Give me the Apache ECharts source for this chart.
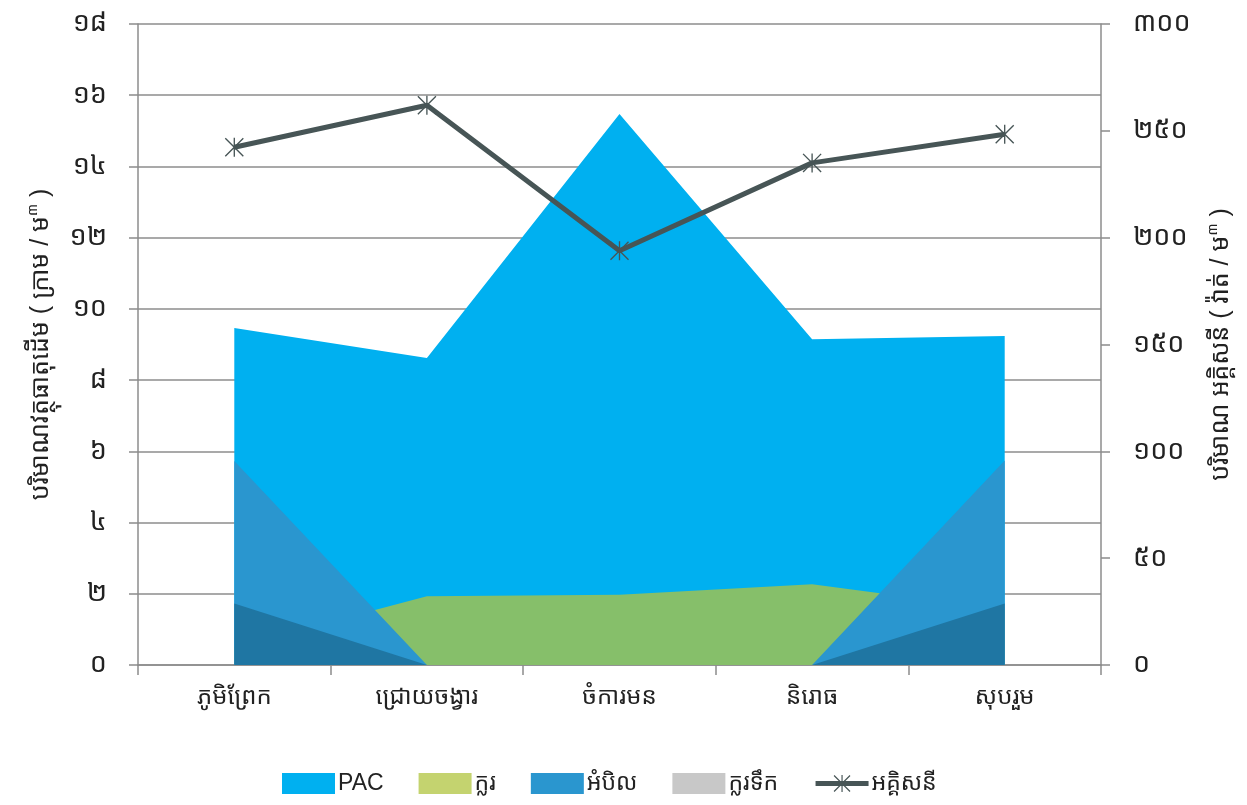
<!DOCTYPE html>
<html>
<head>
<meta charset="utf-8">
<script src="https://cdn.jsdelivr.net/npm/echarts@6/dist/echarts.min.js"></script>
<style>
html,body{margin:0;padding:0;background:#fff;}
#chart{width:1247px;height:805px;}
</style>
</head>
<body>
<div id="chart"></div>
<script>
// Data
var categories = ['ភូមិព្រែក', 'ជ្រោយចង្វារ', 'ចំការមន', 'និរោធ', 'សុបរួម'];
var pacValues = [9.46, 8.62, 15.47, 9.15, 9.24];
var chlorineValues = [0.5, 1.93, 1.97, 2.27, 1.55];
var saltValues = [5.73, 0, 0, 0, 5.74];
var liquidChlorineValues = [1.73, 0, 0, 0, 1.73];
var electricityValues = [242.3, 262.0, 193.9, 235.0, 248.4];
var leftTickLabels = ['០', '២', '៤', '៦', '៨', '១០', '១២', '១៤', '១៦', '១៨'];
var rightTickLabels = ['០', '៥០', '១០០', '១៥០', '២០០', '២៥០', '៣០០'];
var seriesNames = ['PAC', 'ក្លរ', 'អំបិល', 'ក្លរទឹក', 'អគ្គិសនី'];

var FONT = '"Liberation Sans", "Noto Sans Khmer", "Khmer OS", "Noto Sans", sans-serif';
var GRID_GRAY = '#8c8c8c';
var LINE_COLOR = '#475556';
var STAR = 'path://M9.3,0 L10.7,0 L10.7,20 L9.3,20 Z M0,1 L1,0 L20,19 L19,20 Z M19,0 L20,1 L1,20 L0,19 Z';

var chart = echarts.init(document.getElementById('chart'));

function areaSeries(name, data, color) {
  return {
    name: name,
    type: 'line',
    data: data,
    yAxisIndex: 0,
    symbol: 'none',
    showSymbol: false,
    lineStyle: { width: 0, color: color },
    itemStyle: { color: color },
    areaStyle: { color: color, opacity: 1 },
    emphasis: { disabled: true },
    animation: false
  };
}

var option = {
  animation: false,
  textStyle: { fontFamily: FONT },
  grid: { left: 138, right: 146, top: 24, bottom: 140, containLabel: false },
  legend: {
    bottom: 5,
    left: 277,
    itemWidth: 53,
    itemHeight: 21,
    itemGap: 35,
    textStyle: { fontFamily: FONT, fontSize: 23, color: '#222', padding: [0, 0, 0, -2] },
    data: [
      { name: seriesNames[0], icon: 'rect', itemStyle: { color: '#00b0f0' } },
      { name: seriesNames[1], icon: 'rect', itemStyle: { color: '#c4d36f' } },
      { name: seriesNames[2], icon: 'rect', itemStyle: { color: '#2a96cf' } },
      { name: seriesNames[3], icon: 'rect', itemStyle: { color: '#c8c8c8' } },
      { name: seriesNames[4], lineStyle: { width: 5, color: LINE_COLOR } }
    ]
  },
  xAxis: {
    type: 'category',
    data: categories,
    boundaryGap: true,
    axisLine: { show: true, lineStyle: { color: GRID_GRAY, width: 1.5 } },
    axisTick: { show: true, length: 10, alignWithLabel: false, lineStyle: { color: GRID_GRAY, width: 1.5 } },
    axisLabel: { margin: 20, fontSize: 24, color: '#222', fontFamily: FONT },
    splitLine: { show: false }
  },
  yAxis: [
    {
      type: 'value',
      min: 0, max: 18, interval: 2,
      position: 'left',
      name: 'បរិមាណវត្ថុធាតុដើម ( ក្រាម / ម{sup|៣} )',
      nameLocation: 'middle',
      nameGap: 82,
      nameRotate: 90,
      nameTextStyle: {
        fontSize: 25, color: '#222', fontFamily: FONT,
        rich: { sup: { fontSize: 14, color: '#222', fontFamily: FONT, padding: [0, 0, 16, 0] } }
      },
      axisLine: { show: true, lineStyle: { color: GRID_GRAY, width: 1.5 } },
      axisTick: { show: true, length: 9, lineStyle: { color: GRID_GRAY, width: 1.5 } },
      axisLabel: {
        margin: 31, fontSize: 27, color: '#222', fontFamily: FONT,
        formatter: function (v) { return leftTickLabels[Math.round(v / 2)]; }
      },
      splitLine: { show: true, lineStyle: { color: GRID_GRAY, width: 1.5 } }
    },
    {
      type: 'value',
      min: 0, max: 300, interval: 50,
      position: 'right',
      name: 'បរិមាណ អគ្គិសនី ( វ៉ាត់ / ម{sup|៣} )',
      nameLocation: 'middle',
      nameGap: 105,
      nameRotate: 90,
      nameTextStyle: {
        fontSize: 25, color: '#222', fontFamily: FONT,
        rich: { sup: { fontSize: 14, color: '#222', fontFamily: FONT, padding: [0, 0, 16, 0] } }
      },
      axisLine: { show: true, lineStyle: { color: GRID_GRAY, width: 1.5 } },
      axisTick: { show: true, length: 9, lineStyle: { color: GRID_GRAY, width: 1.5 } },
      axisLabel: {
        margin: 32, fontSize: 27, color: '#222', fontFamily: FONT,
        formatter: function (v) { return rightTickLabels[Math.round(v / 50)]; }
      },
      splitLine: { show: false }
    }
  ],
  series: [
    areaSeries(seriesNames[0], pacValues, '#00b0f0'),
    areaSeries(seriesNames[1], chlorineValues, '#86bf6a'),
    areaSeries(seriesNames[2], saltValues, '#2a96cf'),
    areaSeries(seriesNames[3], liquidChlorineValues, '#1f76a3'),
    {
      name: seriesNames[4],
      type: 'line',
      yAxisIndex: 1,
      data: electricityValues,
      symbol: STAR,
      symbolSize: 19,
      showSymbol: true,
      lineStyle: { width: 5, color: LINE_COLOR },
      itemStyle: { color: LINE_COLOR, borderWidth: 0 },
      emphasis: { disabled: true },
      z: 5
    }
  ]
};
chart.setOption(option);
</script>
</body>
</html>
